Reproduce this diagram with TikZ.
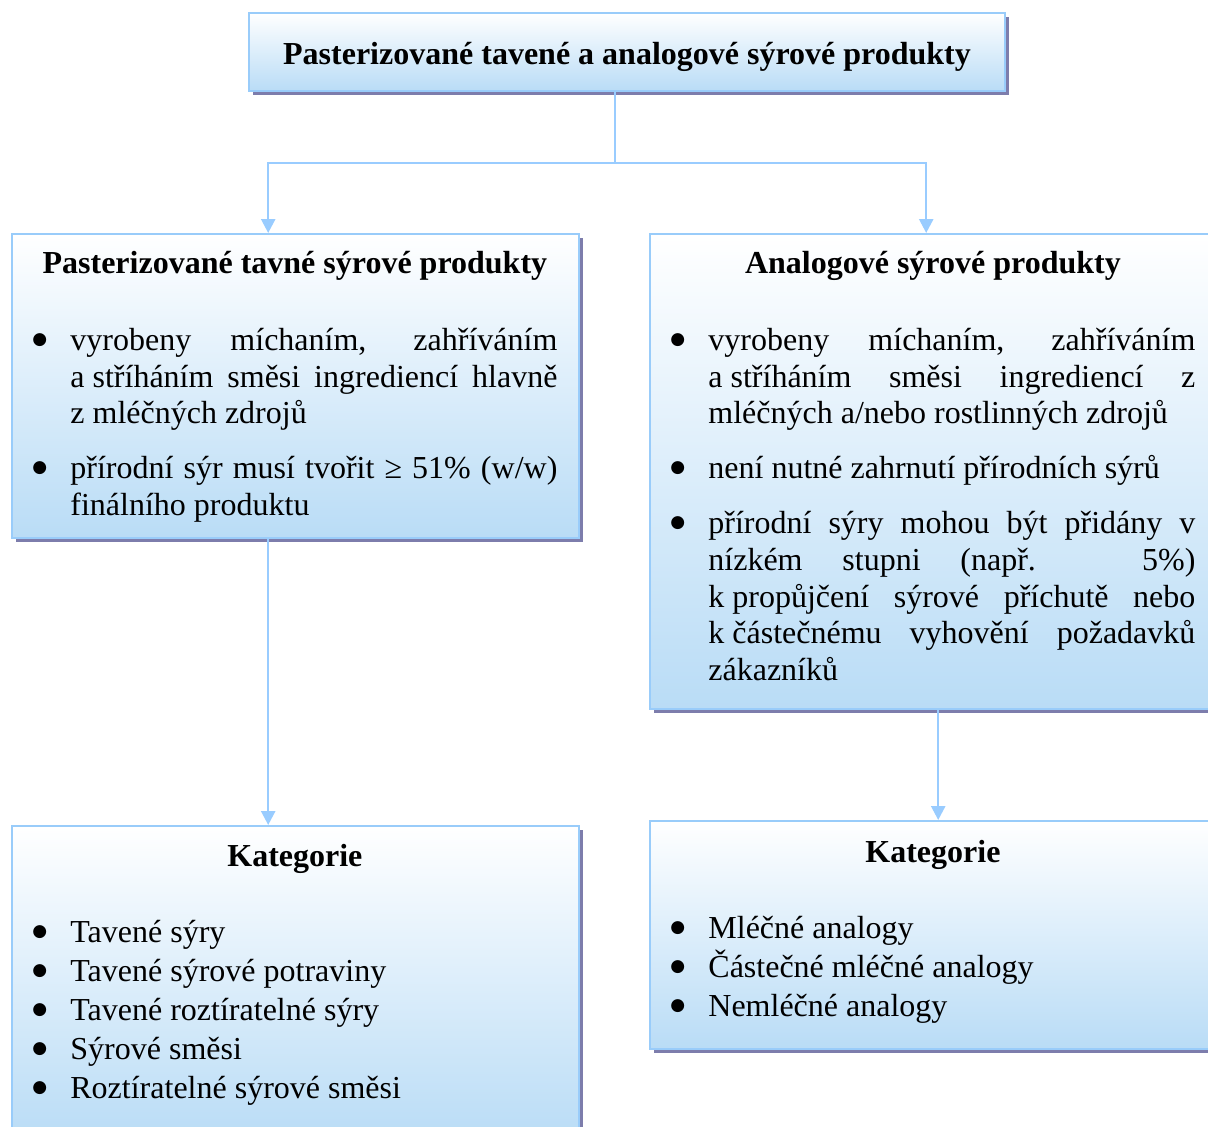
\documentclass[tikz,border=0pt]{standalone}
\usepackage{fontspec}
\setmainfont{Liberation Serif}
\newfontfamily\dotfont{DejaVu Sans}
\usetikzlibrary{arrows.meta, shadows}

\definecolor{edgeblue}{RGB}{153,204,250}
\definecolor{linkblue}{RGB}{153,204,255}
\definecolor{fadeblue}{RGB}{185,220,246}
\definecolor{shadowgray}{RGB}{125,125,172}

\newcommand{\bodyfont}{\fontsize{16pt}{18.35pt}\selectfont}
\newcommand{\panelsetup}{\tolerance=10000 \hyphenpenalty=10000 \parindent=0pt }
\newcommand{\fixsp}{\nobreak\hskip 4pt\relax}
\newcommand{\bigdot}{\rlap{\raisebox{3.2pt}{\dotfont\fontsize{8.5pt}{8.5pt}\selectfont ●}}}
\newenvironment{dotlist}[1][9.15pt]{%
\begin{list}{\bigdot}{\setlength\leftmargin{19pt}\setlength\labelwidth{7pt}%
\setlength\labelsep{12pt}\setlength\itemsep{#1}\setlength\parsep{0pt}%
\setlength\topsep{0pt}\setlength\partopsep{0pt}\setlength\listparindent{0pt}%
\renewcommand\makelabel[1]{##1\hfil}}}{\end{list}}

\begin{document}
\begin{tikzpicture}[x=1pt, y=-1pt, >={Triangle[width=7pt,length=7pt]},
panel/.style={draw=edgeblue, line width=1.2pt, top color=white, bottom color=fadeblue,
  drop shadow={shadow xshift=2pt, shadow yshift=-2pt, fill=shadowgray, opacity=1},
  minimum width=283.5pt, inner sep=0pt, anchor=north west},
paneltext/.style={text width=262.5pt, inner sep=0pt, anchor=north west, align=justify,
  font=\bodyfont, execute at begin node=\panelsetup},
link/.style={draw=linkblue, line width=1.25pt}]

\useasboundingbox (0,0) rectangle (604,563);
\clip (0,0) rectangle (604,563);

% boxes
\node[panel, minimum width=378pt, minimum height=39pt, anchor=center, text height=12pt,
  text depth=0pt, font=\bodyfont\bfseries] (title) at (313.5,26)
  {Pasterizované tavené a analogové sýrové produkty};

\node[panel, minimum height=152pt] (pastbox) at (5.5,116.5) {};
\node[panel, minimum height=237.5pt] (anabox) at (324.5,116.5) {};
\node[panel, minimum height=157.5pt] (pastcat) at (5.5,412.5) {};
\node[panel, minimum height=114pt] (anacat) at (324.5,410) {};

% texts
\node[paneltext] (pasttext) at ([xshift=10.5pt,yshift=-7.15pt]pastbox.north west) {%
\centerline{\strut\bfseries Pasterizované tavné sýrové produkty}\par\vspace{20.15pt}
\begin{dotlist}
\item vyrobeny míchaním, zahříváním\linebreak a\fixsp stříháním směsi ingrediencí hlavně\linebreak z\fixsp mléčných zdrojů
\item přírodní sýr musí tvořit ≥ 51\% (w/w)\linebreak finálního produktu
\end{dotlist}};

\node[paneltext] (anatext) at ([xshift=10.5pt,yshift=-7.15pt]anabox.north west) {%
\centerline{\strut\bfseries Analogové sýrové produkty}\par\vspace{20.15pt}
\begin{dotlist}
\item vyrobeny míchaním, zahříváním\linebreak a\fixsp stříháním směsi ingrediencí z\linebreak mléčných a/nebo rostlinných zdrojů
\item není nutné zahrnutí přírodních sýrů
\item přírodní sýry mohou být přidány v\linebreak nízkém stupni (např. 5\%)\linebreak k\fixsp propůjčení sýrové příchutě nebo\linebreak k\fixsp částečnému vyhovění požadavků\linebreak zákazníků
\end{dotlist}};

\node[paneltext] (pastcattext) at ([xshift=10.5pt,yshift=-7.65pt]pastcat.north west) {%
\centerline{\strut\bfseries Kategorie}\par\vspace{19.65pt}
\begin{dotlist}[1.15pt]
\item Tavené sýry
\item Tavené sýrové potraviny
\item Tavené roztíratelné sýry
\item Sýrové směsi
\item Roztíratelné sýrové směsi
\end{dotlist}};

\node[paneltext] (anacattext) at ([xshift=10.5pt,yshift=-8.15pt]anacat.north west) {%
\centerline{\strut\bfseries Kategorie}\par\vspace{19.65pt}
\begin{dotlist}[1.15pt]
\item Mléčné analogy
\item Částečné mléčné analogy
\item Nemléčné analogy
\end{dotlist}};

% connectors
\coordinate (split) at (307.5,81.5);
\draw[link] (split |- title.south) -- (split);
\draw[link, ->] (split) -| ([xshift=-13.75pt]pastbox.north);
\draw[link, ->] (split) -| ([xshift=-3.75pt]anabox.north);
\draw[link, ->] ([xshift=-13.75pt]pastbox.south) -- ([xshift=-13.75pt]pastcat.north);
\draw[link, ->] ([xshift=2.25pt]anabox.south) -- ([xshift=2.25pt]anacat.north);

\end{tikzpicture}
\end{document}
